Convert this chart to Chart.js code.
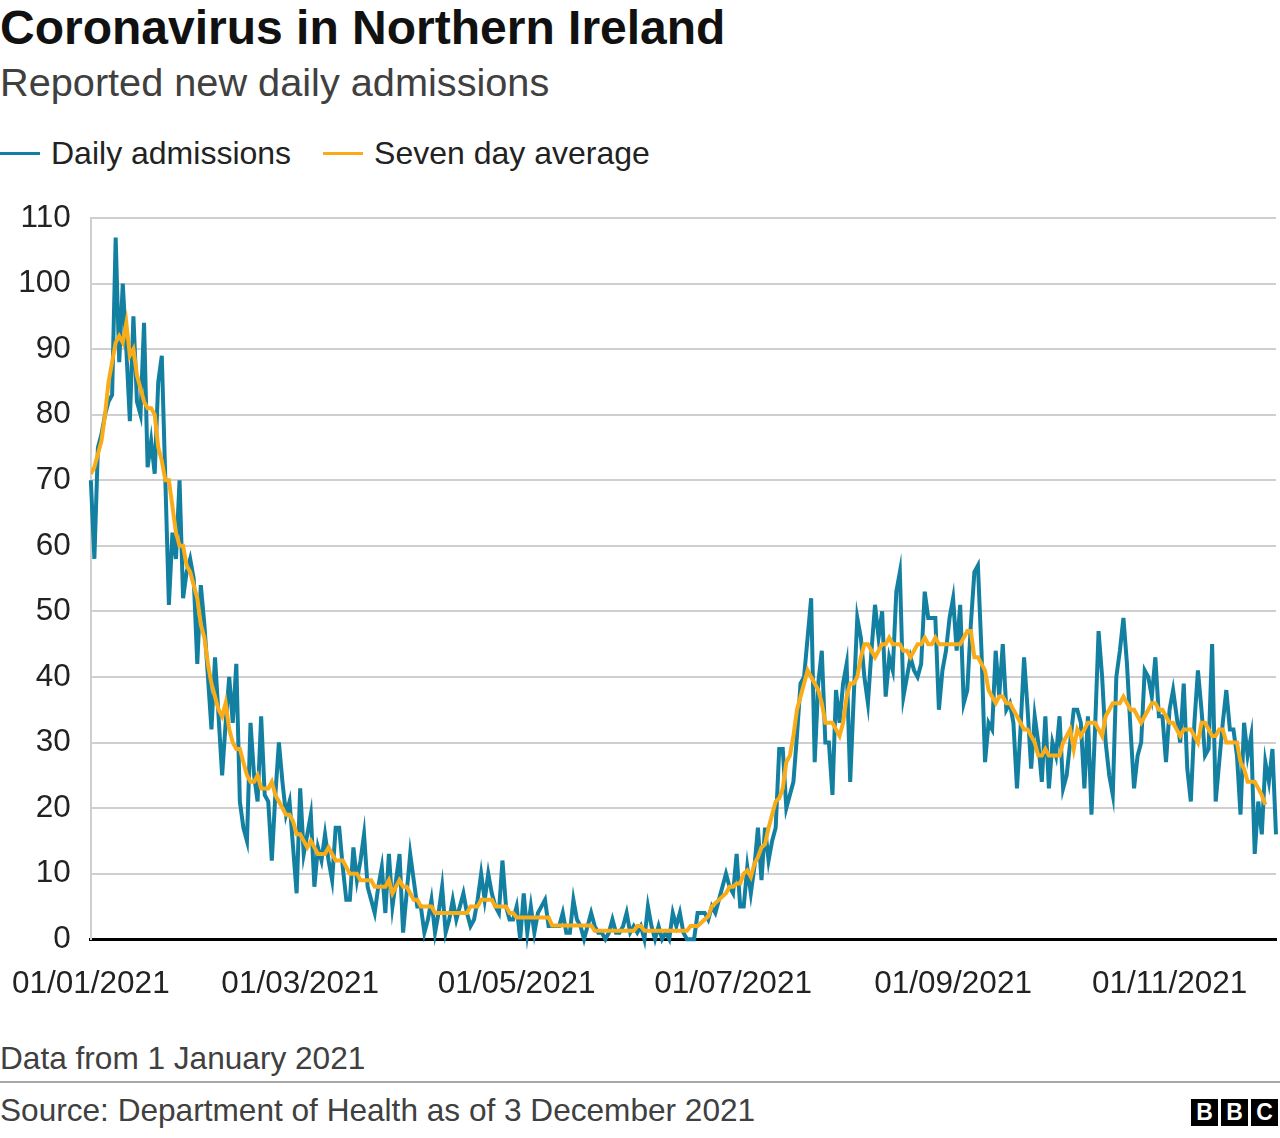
<!DOCTYPE html>
<html>
<head>
<meta charset="utf-8">
<title>Coronavirus in Northern Ireland</title>
<script src="https://cdn.jsdelivr.net/npm/chart.js@4.4.1/dist/chart.umd.min.js"></script>
<style>
  body { margin: 0; width: 1280px; height: 1138px; position: relative; overflow: hidden; background: #fff;
         font-family: "Liberation Sans", Arial, Helvetica, sans-serif; color: #222; }
  .abs { position: absolute; left: 0; white-space: nowrap; }
  #title { top: 4px; font-size: 48px; line-height: 48px; font-weight: bold; color: #111; }
  #subtitle { top: 62px; font-size: 39.7px; line-height: 40px; color: #404040; }
  #legend { top: 137px; font-size: 32px; line-height: 32px; color: #222; }
  #legend .key { display: inline-block; width: 40px; height: 3px; vertical-align: middle; margin-right: 11px; position: relative; top: -2px; }
  #legend .item2 { margin-left: 32px; }
  /* canvas is shifted so the plot area lands at x 90..1276, y 218..939 */
  #chartBox { position: absolute; left: -14px; top: 178px; width: 1294px; height: 851px; }
  #note { top: 1043px; font-size: 31.6px; line-height: 31px; color: #404040; }
  #rule { position: absolute; left: 0; top: 1081px; width: 1280px; height: 2px; background: #a8a8a8; }
  #source { top: 1095px; font-size: 31.6px; line-height: 31px; color: #404040; }
  #bbc { position: absolute; right: 2px; top: 1099px; display: flex; gap: 3px; }
  #bbc span { width: 27px; height: 27px; background: #000; color: #fff; font-weight: bold; font-size: 23px;
              line-height: 27px; text-align: center; }
</style>
</head>
<body>
<div id="title" class="abs">Coronavirus in Northern Ireland</div>
<div id="subtitle" class="abs">Reported new daily admissions</div>
<div id="legend" class="abs">
  <span class="key" style="background:#1380A1"></span>Daily admissions<span class="key item2" style="background:#FAAB18"></span>Seven day average
</div>
<div id="chartBox"><canvas id="admissionsChart"></canvas></div>
<div id="note" class="abs">Data from 1 January 2021</div>
<div id="rule"></div>
<div id="source" class="abs">Source: Department of Health as of 3 December 2021</div>
<div id="bbc"><span>B</span><span>B</span><span>C</span></div>

<script>
// daily admissions, one value per day from 1 Jan 2021
const dailyAdmissions = [
  70, 58, 75, 77, 80, 82, 83, 107, 88, 100,
  90, 79, 95, 82, 80, 94, 72, 76, 71, 85,
  89, 70, 51, 62, 58, 70, 52, 56, 58, 55,
  42, 54, 48, 40, 32, 43, 34, 25, 33, 40,
  33, 42, 21, 17, 15, 33, 25, 21, 34, 22,
  21, 12, 22, 30, 24, 19, 21, 14, 7, 23,
  13, 16, 19, 8, 14, 12, 16, 12, 9, 17,
  17, 11, 6, 6, 14, 9, 12, 16, 8, 6,
  4, 8, 11, 4, 13, 5, 9, 13, 1, 7,
  13, 9, 5, 5, 1, 3, 6, 1, 4, 8,
  1, 3, 6, 3, 5, 7, 4, 2, 3, 6,
  10, 6, 10, 7, 5, 4, 12, 5, 3, 3,
  5, 0, 7, 1, 5, 1, 4, 5, 6, 2,
  2, 2, 2, 4, 1, 1, 6, 3, 2, 0,
  2, 4, 2, 1, 1, 0, 1, 3, 1, 1,
  2, 4, 1, 2, 1, 2, 0, 5, 2, 0,
  2, 0, 1, 0, 4, 2, 4, 1, 0, 0,
  0, 4, 4, 4, 3, 5, 4, 6, 8, 10,
  8, 7, 13, 5, 5, 11, 7, 11, 17, 9,
  17, 12, 15, 17, 29, 29, 20, 22, 24, 31,
  39, 40, 46, 52, 27, 39, 44, 30, 30, 22,
  38, 33, 39, 42, 24, 37, 49, 46, 40, 36,
  44, 51, 46, 50, 37, 43, 41, 53, 56, 37,
  40, 43, 41, 40, 42, 53, 49, 49, 49, 35,
  41, 44, 49, 52, 44, 51, 36, 38, 48, 56,
  57, 44, 27, 33, 32, 44, 37, 45, 35, 36,
  33, 23, 32, 43, 35, 26, 34, 30, 24, 34,
  23, 30, 28, 34, 23, 25, 30, 35, 35, 33,
  23, 34, 19, 32, 47, 40, 30, 25, 22, 40,
  44, 49, 42, 32, 23, 28, 30, 41, 40, 37,
  43, 34, 34, 27, 35, 38, 34, 30, 39, 26,
  21, 33, 41, 35, 28, 29, 45, 21, 27, 33,
  38, 32, 32, 28, 19, 33, 28, 31, 13, 21,
  16, 27, 24, 29, 16
];

// seven day average as published (ends a few days before the daily series)
const sevenDayAverage = [
  71, 72, 74, 76, 80, 85, 88, 91, 92, 91,
  94, 89, 90, 86, 84, 82, 81, 81, 80, 75,
  73, 70, 70, 66, 62, 60, 60, 57, 56, 54,
  52, 48, 46, 42, 39, 37, 35, 34, 36, 32,
  30, 29, 29, 27, 25, 24, 24, 25, 23, 23,
  23, 24, 22, 21, 20, 19, 19, 18, 16, 16,
  15, 14, 15, 14, 13, 13, 13, 14, 13, 12,
  12, 12, 11, 10, 10, 10, 9, 9, 9, 9,
  8, 8, 8, 8, 9, 7, 8, 9, 8, 8,
  7, 6, 6, 5, 5, 5, 5, 4, 4, 4,
  4, 4, 4, 4, 4, 4, 4, 5, 5, 5,
  6, 6, 6, 6, 5, 5, 5, 5, 4, 4,
  3.3, 3.3, 3.3, 3.3, 3.3, 3.3, 3.3, 3.3, 3.3, 3.3,
  2.1, 2.1, 2.1, 2.1, 2.1, 2.1, 2.1, 2.1, 2.1, 2.1,
  2.1, 2.1, 1.3, 1.3, 1.3, 1.3, 1.3, 1.3, 1.3, 1.3,
  1.3, 1.3, 1.3, 1.3, 2, 2, 1.3, 1.3, 1.3, 1.3,
  1.3, 1.3, 1.3, 1.3, 1.3, 1.3, 1.3, 1.3, 1.3, 2,
  2, 2, 2.5, 3, 3.5, 5, 5.5, 6, 6.5, 7,
  8, 8, 8.5, 8.5, 10, 10.5, 9.5, 11.5, 12.5, 14,
  14.5, 17, 19, 21, 21.5, 23, 27, 28, 31, 35,
  37, 39, 41, 40, 39, 38, 36, 33, 33, 33,
  32, 31, 33, 37, 39, 39, 40, 43, 45, 45,
  44, 43, 44, 45, 45, 46, 45, 45, 45, 44,
  44, 43, 44, 45, 45, 46, 45, 45, 46, 45,
  45, 45, 45, 45, 45, 45, 46, 47, 47, 43,
  43, 42, 41, 38, 37, 36, 37, 37, 36, 36,
  35, 34, 33, 32, 32, 31, 30, 28, 28, 29,
  28, 28, 28, 28, 30, 31, 32, 29, 32, 31,
  32, 33, 33, 33, 32, 31, 34, 35, 36, 36,
  36, 37, 36, 35, 35, 34, 33, 34, 35, 36,
  36, 35, 35, 34, 33, 33, 32, 31, 32, 32,
  32, 31, 30, 33, 33, 32, 31, 31, 32, 32,
  30, 30, 30, 30, 27, 26, 24, 24, 24, 23,
  22, 20.5
];

// x axis: day number since 1 Jan 2021 and its label
const tickDays = [0, 59, 120, 181, 243, 304];
const tickLabels = ["01/01/2021", "01/03/2021", "01/05/2021", "01/07/2021", "01/09/2021", "01/11/2021"];

const yMin = 0;
const yMax = 110;
const yStep = 10;

const toPoints = (arr) => arr.map((v, i) => ({ x: i, y: v }));

Chart.defaults.font.family = '"Liberation Sans", Arial, Helvetica, sans-serif';
Chart.defaults.color = "#222";

new Chart(document.getElementById("admissionsChart"), {
  type: "line",
  data: {
    datasets: [
      {
        label: "Seven day average",
        data: toPoints(sevenDayAverage),
        borderColor: "#FAAB18",
        backgroundColor: "#FAAB18",
        borderWidth: 4,
        pointRadius: 0,
        tension: 0,
        order: 0,
      },
      {
        label: "Daily admissions",
        data: toPoints(dailyAdmissions),
        borderColor: "#1380A1",
        backgroundColor: "#1380A1",
        borderWidth: 4,
        pointRadius: 0,
        tension: 0,
        clip: false,
        order: 1,
      },
    ],
  },
  options: {
    responsive: true,
    maintainAspectRatio: false,
    animation: false,
    layout: { padding: { top: 40, right: 4, bottom: 0, left: 0 } },
    plugins: {
      legend: { display: false },
      tooltip: { enabled: false },
    },
    scales: {
      x: {
        type: "linear",
        min: 0,
        max: dailyAdmissions.length - 1,
        afterBuildTicks: (scale) => {
          scale.ticks = tickDays.map((d) => ({ value: d }));
        },
        ticks: {
          autoSkip: false,
          maxRotation: 0,
          padding: 26,
          font: { size: 31.5 },
          color: "#222",
          callback: (value) => tickLabels[tickDays.indexOf(value)],
        },
        grid: { display: false, drawTicks: false },
        border: { display: true, color: "#000", width: 3 },
      },
      y: {
        min: yMin,
        max: yMax,
        afterFit: (scale) => {
          scale.width = 90;
        },
        ticks: {
          stepSize: yStep,
          padding: 20,
          font: { size: 31.5 },
          color: "#222",
        },
        grid: {
          drawTicks: false,
          lineWidth: 2,
          color: (ctx) => (ctx.tick && ctx.tick.value === 0 ? "rgba(0,0,0,0)" : "#cfcfcf"),
        },
        border: { display: true, color: "#cfcfcf", width: 2 },
      },
    },
  },
});
</script>
</body>
</html>
